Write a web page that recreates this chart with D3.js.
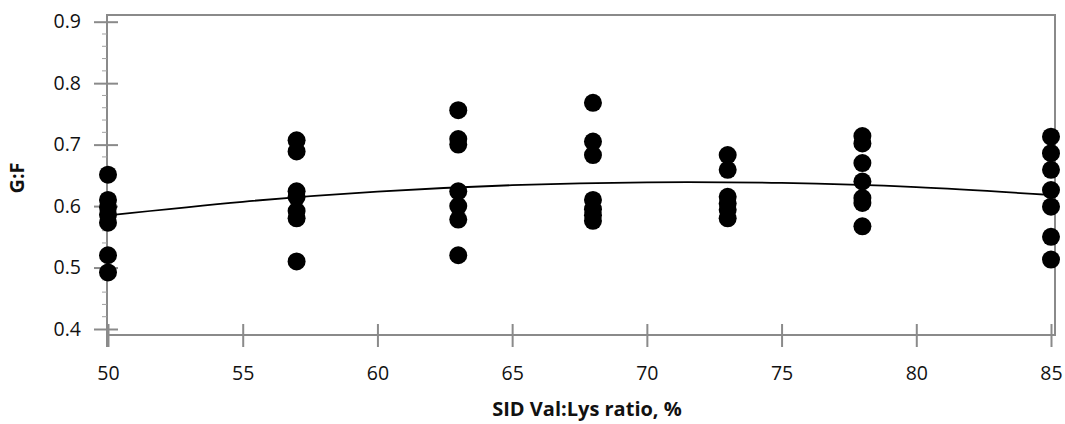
<!DOCTYPE html>
<html>
<head>
<meta charset="utf-8">
<script src="https://cdn.jsdelivr.net/npm/d3@7"></script>
<style>
  body { margin: 0; background: #fff; }
  svg text { font-family: "Open Sans", "Noto Sans", sans-serif; fill: #111; }
</style>
</head>
<body>
<svg id="chart" width="1065" height="424"></svg>
<script>
// SID Val:Lys ratio levels and the G:F readings at each one
let ratios = [50, 57, 63, 68, 73, 78, 85]
let gf50 = [0.651, 0.610, 0.598, 0.586, 0.573, 0.520, 0.492]
let gf57 = [0.707, 0.689, 0.624, 0.615, 0.592, 0.580, 0.510]
let gf63 = [0.756, 0.709, 0.700, 0.624, 0.600, 0.578, 0.520]
let gf68 = [0.768, 0.705, 0.683, 0.610, 0.595, 0.585, 0.576]
let gf73 = [0.683, 0.659, 0.615, 0.604, 0.594, 0.580]
let gf78 = [0.714, 0.702, 0.670, 0.640, 0.613, 0.605, 0.567]
let gf85 = [0.713, 0.686, 0.659, 0.626, 0.599, 0.550, 0.513]
let groups = [gf50, gf57, gf63, gf68, gf73, gf78, gf85]

// fitted curve
let trendX = [50, 55, 60, 65, 70, 75, 80, 85]
let trendY = [0.585, 0.607, 0.6235, 0.634, 0.6387, 0.6376, 0.6307, 0.618]

let xTicks = [50, 55, 60, 65, 70, 75, 80, 85]
let yTicks = [0.4, 0.5, 0.6, 0.7, 0.8, 0.9]

let points = []
for (let i = 0; i < ratios.length; i++) {
    for (let v of groups[i]) points.push({x: ratios[i], y: v})
}

let svg = d3.select("#chart")
let axisColor = "#8a8a8a"

let boxLeft = 107, boxRight = 1055, boxTop = 15, boxBottom = 335

let x = d3.scaleLinear().domain([50, 85]).range([108, 1051])
let y = d3.scaleLinear().domain([0.4, 0.9]).range([329, 21.7])

// frame
svg.append("path")
    .attr("d", `M${boxLeft},${boxBottom}V${boxTop}H${boxRight}V${boxBottom}H${boxLeft}`)
    .attr("fill", "none")
    .attr("stroke", axisColor)
    .attr("stroke-width", 2)

// y-axis line runs a bit below the frame
svg.append("line")
    .attr("x1", boxLeft).attr("x2", boxLeft)
    .attr("y1", boxBottom).attr("y2", 347)
    .attr("stroke", axisColor).attr("stroke-width", 2)

// minor y ticks
let minor = d3.range(0.4, 0.9001, 0.02).filter(v => Math.abs(v * 10 - Math.round(v * 10)) > 0.01)
svg.selectAll(".minor")
    .data(minor).enter()
    .append("line")
    .attr("class", "minor")
    .attr("x1", boxLeft - 5).attr("x2", boxLeft)
    .attr("y1", d => y(d)).attr("y2", d => y(d))
    .attr("stroke", "#a0a0a0").attr("stroke-width", 1)

// y axis
let yAxis = svg.append("g")
    .attr("transform", `translate(${boxLeft},0)`)
    .call(d3.axisLeft(y).tickValues(yTicks).tickFormat(d3.format(".1f")).tickSize(12).tickPadding(14))
yAxis.select(".domain").remove()
yAxis.selectAll(".tick line")
    .attr("x2", 11).attr("x1", -13)
    .attr("stroke", axisColor).attr("stroke-width", 2)
yAxis.selectAll(".tick text")
    .attr("x", -26)
    .style("font-size", "19.5px")

// x axis
let xAxis = svg.append("g")
    .attr("transform", `translate(0,${boxBottom})`)
    .call(d3.axisBottom(x).tickValues(xTicks).tickFormat(d3.format("d")).tickSize(12))
xAxis.select(".domain").remove()
xAxis.selectAll(".tick line")
    .attr("y1", -11).attr("y2", 12)
    .attr("stroke", axisColor).attr("stroke-width", 2)
xAxis.selectAll(".tick text")
    .attr("y", 40)
    .attr("dy", "0")
    .attr("dominant-baseline", "middle")
    .style("font-size", "19.5px")

// trend line
svg.append("path")
    .datum(trendX.map((d, i) => [d, trendY[i]]))
    .attr("fill", "none")
    .attr("stroke", "#000")
    .attr("stroke-width", 1.8)
    .attr("d", d3.line().x(d => x(d[0])).y(d => y(d[1])).curve(d3.curveNatural))

// points
svg.selectAll(".dot")
    .data(points).enter()
    .append("circle")
    .attr("class", "dot")
    .attr("cx", d => x(d.x))
    .attr("cy", d => y(d.y))
    .attr("r", 9)
    .attr("fill", "#000")

// axis titles
svg.append("text")
    .attr("x", 587).attr("y", 416)
    .attr("text-anchor", "middle")
    .style("font-size", "20px").style("font-weight", "bold")
    .text("SID Val:Lys ratio, %")

svg.append("text")
    .attr("transform", "translate(24,178) rotate(-90)")
    .attr("text-anchor", "middle")
    .style("font-size", "20px").style("font-weight", "bold")
    .text("G:F")
</script>
</body>
</html>
